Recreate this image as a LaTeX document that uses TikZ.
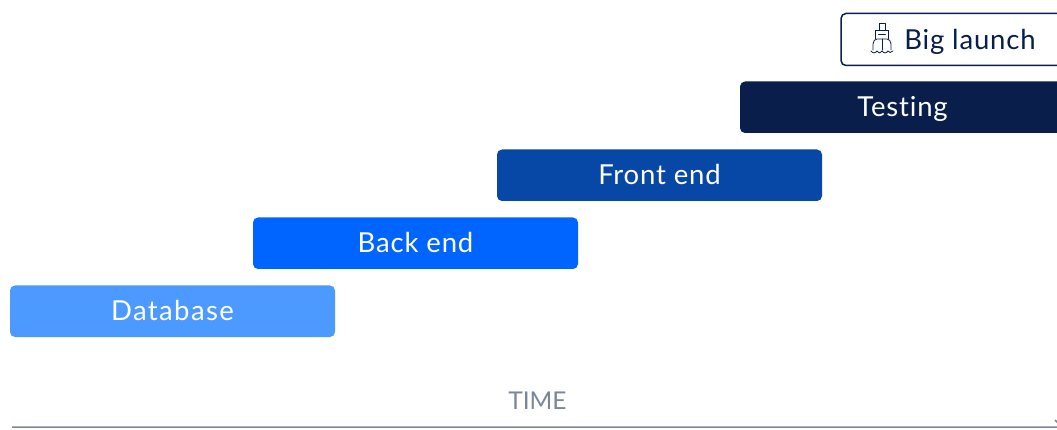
\documentclass[tikz,border=0pt]{standalone}
\usepackage{fontspec}
\setmainfont{Lato}[Ligatures=NoCommon]
\definecolor{cA}{HTML}{4C9AFF}
\definecolor{cB}{HTML}{0065FF}
\definecolor{cC}{HTML}{0747A6}
\definecolor{cD}{HTML}{091E4A}
\definecolor{cAxis}{HTML}{7A869A}
\tikzset{
  bar/.style={rounded corners=5pt, inner sep=0pt, text=white, minimum width=325pt, minimum height=51.5pt, text height=20pt, text depth=2pt, font=\fontsize{27.5}{30}\selectfont\addfontfeatures{LetterSpace=3}, anchor=center},
  launch/.style={bar, draw=cD, line width=1.5pt, fill=white, text=cD, minimum width=224pt, minimum height=52pt, text height=22pt, anchor=center},
  shipline/.style={draw=cD, line width=0.8pt, line join=round, line cap=round}
}
\begin{document}
\begin{tikzpicture}[x=1pt,y=-1pt]
\useasboundingbox (0,0) rectangle (1057,430);
\clip (0,0) rectangle (1057,430);
\node[bar, fill=cA] (db) at (172.5,311.25) {\addfontfeatures{LetterSpace=5}Database};
\node[bar, fill=cB] (be) at (415.5,243.25) {Back end};
\node[bar, fill=cC] (fe) at (659.5,175.25) {Front end};
\node[bar, fill=cD] (te) at (902.5,107.25) {Testing};
\node[launch] (bl) at (953,39.5) {\hspace*{34pt}Big launch};
\node[text=cAxis, inner sep=0pt, font=\fontsize{24.5}{28}\selectfont] (time) at (537.5,400.5) {TIME};
\coordinate (axs) at (12,427);
\coordinate (axe) at (1062,427);
\coordinate (axh) at (1055,420);
\draw[cAxis, line width=1.5pt] (axs) -- (axe) -- (axh);
% ship icon
\begin{scope}[shipline]
\draw (879,30) -- (879,23) -- (885,23) -- (885,30);
\draw (875.5,39) -- (875.5,30) -- (888.5,30) -- (888.5,39);
\draw (878.5,34) -- (885.5,34);
\draw (873,50) -- (873,44) .. controls (873,41) and (875,39) .. (877,39) -- (887,39) .. controls (889,39) and (891,41) .. (891,44) -- (891,50);
\draw (882,39) -- (882,50);
\draw (871,51) .. controls (873,53.5) and (875,53.5) .. (877,51) .. controls (879,53.5) and (881,53.5) .. (882,51) .. controls (884,53.5) and (886,53.5) .. (888,51) .. controls (889,53) and (891,53) .. (893,51);
\end{scope}
\end{tikzpicture}
\end{document}
